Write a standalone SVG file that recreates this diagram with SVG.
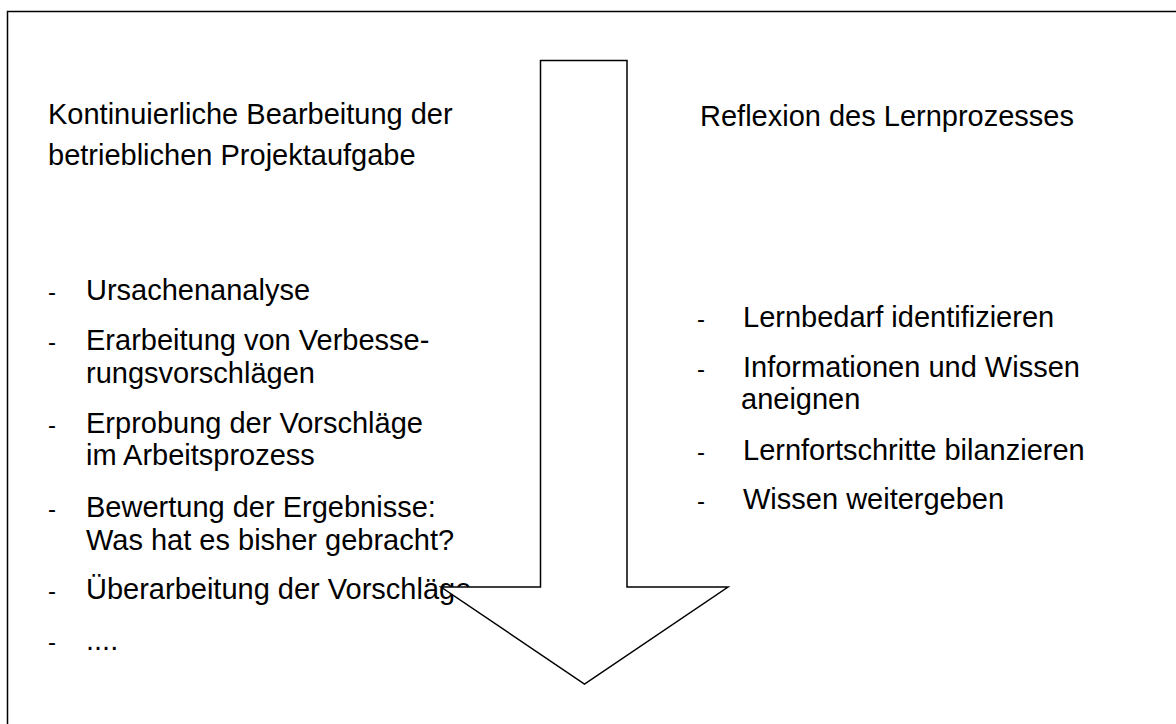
<svg xmlns="http://www.w3.org/2000/svg" width="1176" height="724" viewBox="0 0 1176 724">
<style>
text{font-family:"Liberation Sans",Arial,sans-serif;font-size:29px;fill:#000}
.d{font-size:24px}
.ln{fill:none;stroke:#000;stroke-width:1.5}
</style>
<rect x="0" y="0" width="1176" height="724" fill="#fff"/>
<g id="frame"><path class="ln" d="M7.5,730 V11.5 H1190"/></g>
<g id="left">
<text x="48" y="124">Kontinuierliche Bearbeitung der</text>
<text x="48" y="165">betrieblichen Projektaufgabe</text>
<text class="d" x="48" y="300">-</text><text x="86" y="300">Ursachenanalyse</text>
<text class="d" x="48" y="350">-</text><text x="86" y="350">Erarbeitung von Verbesse-</text>
<text x="86" y="383">rungsvorschlägen</text>
<text class="d" x="48" y="433">-</text><text x="86" y="433">Erprobung der Vorschläge</text>
<text x="86" y="465">im Arbeitsprozess</text>
<text class="d" x="48" y="517">-</text><text x="86" y="517">Bewertung der Ergebnisse:</text>
<text x="86" y="550">Was hat es bisher gebracht?</text>
<text class="d" x="48" y="599">-</text><text x="86" y="599">Überarbeitung der Vorschläge</text>
<text class="d" x="48" y="650">-</text><text x="86" y="650">....</text>
</g>
<g id="right">
<text x="700" y="126">Reflexion des Lernprozesses</text>
<text class="d" x="697" y="327">-</text><text x="743" y="327">Lernbedarf identifizieren</text>
<text class="d" x="697" y="377">-</text><text x="743" y="377">Informationen und Wissen</text>
<text x="741" y="409">aneignen</text>
<text class="d" x="697" y="460">-</text><text x="743" y="460">Lernfortschritte bilanzieren</text>
<text class="d" x="697" y="509">-</text><text x="743" y="509">Wissen weitergeben</text>
</g>
<g id="connectors">
<polygon id="arrow" points="540.5,60.5 627,60.5 627,587 728,587 584.5,684 441,587 540.5,587" fill="#fff" stroke="#000" stroke-width="1.5" stroke-linejoin="miter"/>
</g>
</svg>
